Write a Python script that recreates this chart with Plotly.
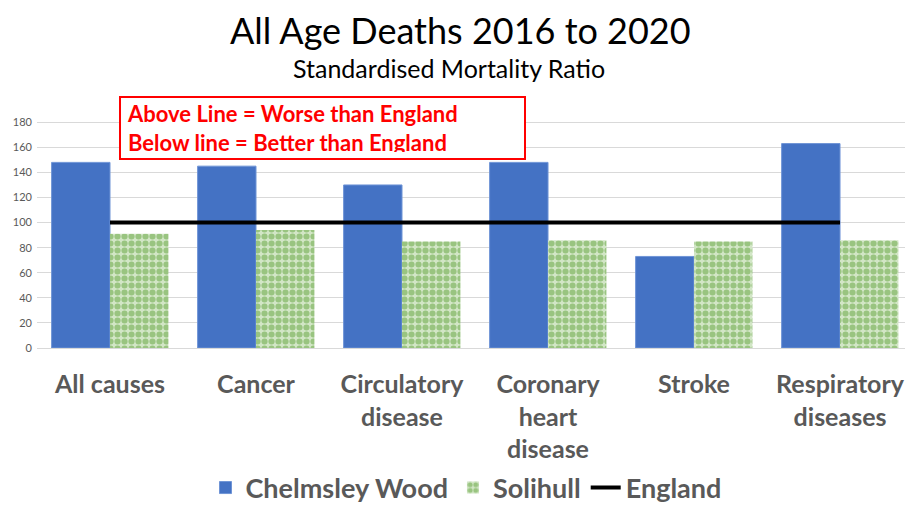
import plotly.graph_objects as go

categories = ["All causes", "Cancer", "Circulatory<br>disease", "Coronary<br>heart<br>disease", "Stroke", "Respiratory<br>diseases"]
chelmsley_wood = [148, 145, 130, 148, 73, 163]
solihull = [91, 94, 85, 86, 85, 86]
england = [100, 100, 100, 100, 100, 100]
y_ticks = [0, 20, 40, 60, 80, 100, 120, 140, 160, 180]

W, H = 905, 506
L, R, T, B = 37, 0, 121, 158
pw = W - L - R
ph = H - T - B

def px_x(x):
    return (x - L) / pw

def px_y(y):
    return (H - B - y) / ph

fig = go.Figure()
fig.add_trace(go.Bar(
    x=categories, y=chelmsley_wood, name="Chelmsley Wood",
    marker=dict(color="#4472C4", line=dict(color="#6f94d6", width=1)),
))
fig.add_trace(go.Bar(
    x=categories, y=solihull, name="Solihull",
    marker=dict(color="#ffffff", line=dict(width=0),
                pattern=dict(shape=".", fgcolor="#5fa13a", bgcolor="#d2e6c6", size=7, solidity=0.6)),
))
fig.add_trace(go.Scatter(
    x=categories, y=england, name="England", mode="lines",
    line=dict(color="#000000", width=4),
))

fig.add_annotation(
    xref="paper", yref="paper",
    x=px_x(119), y=px_y(96),
    xanchor="left", yanchor="top",
    text="<b>Above Line = Worse than England<br>Below line = Better than England</b>",
    align="left", showarrow=False,
    font=dict(family="Lato, Arial", size=22, color="#ff0000"),
    bordercolor="#ff0000", borderwidth=2, borderpad=6,
    bgcolor="#ffffff", width=391, height=48,
)

fig.add_annotation(
    xref="paper", yref="paper", x=px_x(460), y=px_y(30),
    xanchor="center", yanchor="middle", showarrow=False,
    text="All Age Deaths 2016 to 2020",
    font=dict(family="Lato, Arial", size=36, color="#000000"),
)
fig.add_annotation(
    xref="paper", yref="paper", x=px_x(449), y=px_y(68),
    xanchor="center", yanchor="middle", showarrow=False,
    text="Standardised Mortality Ratio",
    font=dict(family="Lato, Arial", size=25, color="#000000"),
)

fig.update_layout(
    width=W, height=H,
    margin=dict(l=L, r=R, t=T, b=B, pad=0, autoexpand=False),
    paper_bgcolor="#ffffff", plot_bgcolor="#ffffff",
    barmode="group", bargap=0.2, bargroupgap=0,
    xaxis=dict(
        range=[-0.5, 5.445], showgrid=False, showline=False, ticks="",
        tickfont=dict(family="Lato, Arial", size=25, color="#595959", weight="bold"),
        ticklabelstandoff=19, automargin=False,
    ),
    yaxis=dict(
        range=[0, 181], tickvals=y_ticks, showgrid=True, gridcolor="#d9d9d9", gridwidth=1,
        zeroline=True, zerolinecolor="#d9d9d9", zerolinewidth=1,
        tickfont=dict(family="Lato, Arial", size=11, color="#595959"),
        ticklabelstandoff=4, automargin=False,
    ),
    legend=dict(
        orientation="h", x=px_x(466), xanchor="center", y=px_y(488), yanchor="middle",
        font=dict(family="Lato, Arial", size=27, color="#595959", weight="bold"),
        itemwidth=30, tracegroupgap=0,
    ),
    showlegend=True,
)

fig.write_html(
    "out.html",
    config={"displayModeBar": False},
    post_script="document.body.style.margin='0';document.body.style.overflow='hidden';",
)
